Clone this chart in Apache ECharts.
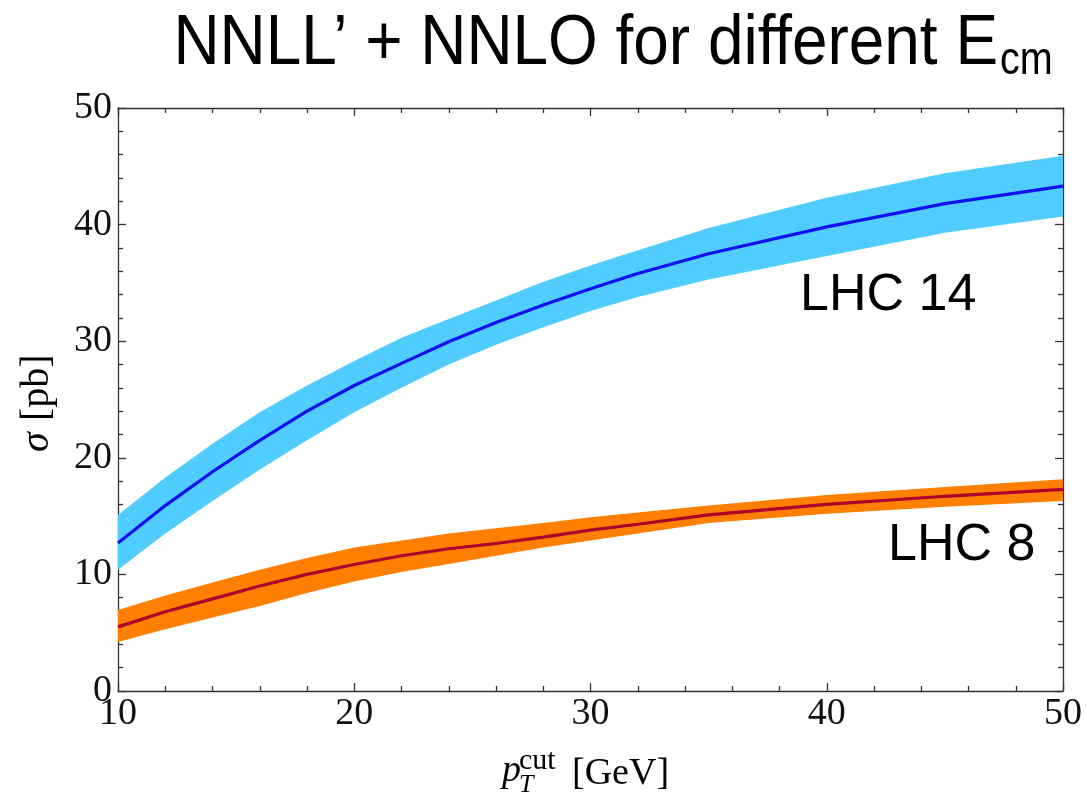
<!DOCTYPE html>
<html>
<head>
<meta charset="utf-8">
<script src="https://cdn.jsdelivr.net/npm/echarts@6/dist/echarts.min.js"></script>
<style>html,body{margin:0;padding:0;background:#fff}#c{width:1086px;height:798px}</style>
</head>
<body>
<div id="c"></div>
<script>
// pT cut values [GeV]
var ptCut = [10, 12, 14, 16, 18, 20, 22, 24, 26, 28, 30, 32, 35, 40, 45, 50];
// LHC 14 cross section [pb]
var lhc14Central = [12.7, 15.9, 18.8, 21.5, 24.0, 26.2, 28.1, 29.95, 31.6, 33.1, 34.5, 35.8, 37.5, 39.8, 41.8, 43.3];
var lhc14Upper   = [15.1, 18.3, 21.2, 23.9, 26.2, 28.3, 30.3, 31.9, 33.5, 35.1, 36.5, 37.8, 39.7, 42.3, 44.4, 45.9];
var lhc14Lower   = [10.4, 13.5, 16.3, 19.0, 21.5, 23.9, 26.0, 28.0, 29.7, 31.2, 32.6, 33.8, 35.3, 37.3, 39.3, 40.7];
// LHC 8 cross section [pb]
var lhc8Central = [5.5, 6.8, 7.9, 9.0, 10.0, 10.85, 11.6, 12.2, 12.65, 13.2, 13.8, 14.3, 15.1, 16.0, 16.7, 17.3];
var lhc8Upper   = [6.95, 8.2, 9.3, 10.4, 11.4, 12.3, 12.9, 13.5, 13.95, 14.4, 14.9, 15.3, 15.9, 16.8, 17.5, 18.15];
var lhc8Lower   = [4.2, 5.3, 6.3, 7.3, 8.4, 9.4, 10.2, 10.9, 11.6, 12.3, 12.9, 13.5, 14.4, 15.2, 15.8, 16.3];
var xTicks = [10, 20, 30, 40, 50];
var yTicks = [0, 10, 20, 30, 40, 50];

var chart = echarts.init(document.getElementById('c'), null, {renderer: 'canvas'});

function bandSeries(lower, upper, color) {
  return {
    type: 'custom',
    silent: true,
    z: 1,
    data: ptCut.map(function (x, i) { return [x, lower[i], upper[i]]; }),
    encode: {x: 0, y: [1, 2]},
    renderItem: function (params, api) {
      if (params.dataIndex !== 0) return null;
      var pts = [];
      for (var i = 0; i < ptCut.length; i++) pts.push(api.coord([ptCut[i], upper[i]]));
      for (var j = ptCut.length - 1; j >= 0; j--) pts.push(api.coord([ptCut[j], lower[j]]));
      return {type: 'polygon', shape: {points: pts}, style: {fill: color, stroke: null}};
    }
  };
}
function lineSeries(vals, color) {
  return {
    type: 'line', z: 3, silent: true, showSymbol: false, smooth: false,
    data: ptCut.map(function (x, i) { return [x, vals[i]]; }),
    lineStyle: {color: color, width: 3.2}
  };
}

var axisLineStyle = {color: '#333', width: 1.3};
var tickFont = {fontFamily: 'Liberation Serif, Times New Roman, serif', fontSize: 38, color: '#111'};

function xAxisDef(pos, showLabel) {
  return {
    type: 'value', position: pos, min: 10, max: 50, interval: 10,
    axisLine: {show: true, onZero: false, lineStyle: axisLineStyle},
    axisTick: {show: true, inside: true, length: 8, lineStyle: axisLineStyle},
    minorTick: {show: true, splitNumber: 5, length: 5, lineStyle: axisLineStyle},
    splitLine: {show: false},
    axisLabel: Object.assign({show: showLabel, margin: 4, formatter: function (v) { return xTicks.indexOf(v) >= 0 ? String(v) : ''; }}, tickFont)
  };
}
function yAxisDef(pos, showLabel) {
  return {
    type: 'value', position: pos, min: 0, max: 50, interval: 10,
    axisLine: {show: true, onZero: false, lineStyle: axisLineStyle},
    axisTick: {show: true, inside: true, length: 8, lineStyle: axisLineStyle},
    minorTick: {show: true, splitNumber: 5, length: 5, lineStyle: axisLineStyle},
    splitLine: {show: false},
    axisLabel: Object.assign({show: showLabel, margin: 6, formatter: function (v) { return yTicks.indexOf(v) >= 0 ? String(v) : ''; }}, tickFont)
  };
}

var serif = 'Liberation Serif, Times New Roman, serif';
var sans = 'Liberation Sans, Arial, Helvetica, sans-serif';

chart.setOption({
  animation: false,
  backgroundColor: '#ffffff',
  grid: {left: 118, right: 23, top: 108, bottom: 107, containLabel: false},
  xAxis: [xAxisDef('bottom', true), xAxisDef('top', false)],
  yAxis: [yAxisDef('left', true), yAxisDef('right', false)],
  series: [
    bandSeries(lhc14Lower, lhc14Upper, '#50CCFE'),
    bandSeries(lhc8Lower, lhc8Upper, '#FF8000'),
    lineSeries(lhc14Central, '#1010F0'),
    lineSeries(lhc8Central, '#B0002C')
  ],
  graphic: [
    {type: 'text', x: 998, y: 80, scaleX: 0.9, style: {text: 'NNLL’ + NNLO for different E', font: 'normal 71px ' + sans, fill: '#000', textAlign: 'right', textVerticalAlign: 'bottom'}},
    {type: 'text', x: 1000, y: 84, scaleX: 0.86, style: {text: 'cm', font: 'normal 46px ' + sans, fill: '#000', textAlign: 'left', textVerticalAlign: 'bottom'}},
    {type: 'text', x: 800, y: 322, style: {text: 'LHC 14', font: 'normal 52px ' + sans, fill: '#000', textAlign: 'left', textVerticalAlign: 'bottom'}},
    {type: 'text', x: 888, y: 572, style: {text: 'LHC 8', font: 'normal 52px ' + sans, fill: '#000', textAlign: 'left', textVerticalAlign: 'bottom'}},
    // y axis name
    {type: 'group', x: 37, y: 401, rotation: Math.PI / 2, children: [
      {type: 'text', x: -51, y: 0, style: {text: 'σ', font: 'italic 40px ' + serif, fill: '#000', textAlign: 'left', textVerticalAlign: 'middle'}},
      {type: 'text', x: -20, y: 0, style: {text: '[pb]', font: 'normal 40px ' + serif, fill: '#000', textAlign: 'left', textVerticalAlign: 'middle'}}
    ]},
    // x axis name
    {type: 'text', x: 502, y: 790, style: {text: 'p', font: 'italic 38px ' + serif, fill: '#000', textAlign: 'left', textVerticalAlign: 'bottom'}},
    {type: 'text', x: 519, y: 798, style: {text: 'T', font: 'italic 26px ' + serif, fill: '#000', textAlign: 'left', textVerticalAlign: 'bottom'}},
    {type: 'text', x: 519, y: 776, style: {text: 'cut', font: 'normal 30px ' + serif, fill: '#000', textAlign: 'left', textVerticalAlign: 'bottom'}},
    {type: 'text', x: 572, y: 793, style: {text: '[GeV]', font: 'normal 38px ' + serif, fill: '#000', textAlign: 'left', textVerticalAlign: 'bottom'}}
  ]
});
</script>
</body>
</html>
